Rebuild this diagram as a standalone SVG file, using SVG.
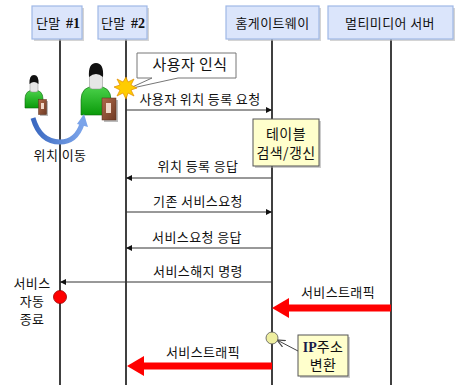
<svg xmlns="http://www.w3.org/2000/svg" width="455" height="385" viewBox="0 0 455 385">
  <style>
    .hdr { fill: #dbe5fb; stroke: #9fb8e6; stroke-width: 1.2; }
    .shadow { fill: #b8b8b8; opacity: 0.6; }
    .life { stroke: #000; stroke-width: 1.5; }
    .msg { stroke: #333; stroke-width: 1; fill: none; }
    .t { font-family: "Noto Sans CJK KR", "Liberation Sans", sans-serif; font-size: 13px; fill: #111; letter-spacing: 0.4px; }
    .ts { font-family: "Liberation Serif", serif; font-weight: bold; font-size: 14px; fill: #111; }
    .note { fill: #ffffcc; stroke: #555; stroke-width: 1; }
    .traffic { stroke: #ff0000; stroke-width: 7; fill: none; }
  </style>
  <defs>
    <marker id="ah" viewBox="0 0 6 6" refX="6" refY="3" markerWidth="6" markerHeight="6" orient="auto" markerUnits="userSpaceOnUse">
      <path d="M0,0 L6,3 L0,6 z" fill="#111"/>
    </marker>
    <marker id="open" viewBox="0 0 10 10" refX="9" refY="5" markerWidth="9" markerHeight="9" orient="auto" markerUnits="userSpaceOnUse">
      <path d="M0,1 L9,5 L0,9" fill="none" stroke="#444" stroke-width="1.3"/>
    </marker>
    <linearGradient id="bodyG" x1="0" y1="0" x2="0" y2="1">
      <stop offset="0" stop-color="#4cd34c"/>
      <stop offset="1" stop-color="#0a9a0a"/>
    </linearGradient>
    <linearGradient id="phoneG" x1="0" y1="0" x2="1" y2="1">
      <stop offset="0" stop-color="#b06a4a"/>
      <stop offset="1" stop-color="#6e3a24"/>
    </linearGradient>
    <linearGradient id="curveG" x1="0" y1="0" x2="1" y2="0">
      <stop offset="0" stop-color="#3a68c0"/>
      <stop offset="1" stop-color="#7ba4ea"/>
    </linearGradient>
  </defs>

  <!-- lifelines -->
  <g id="lifelines">
    <line class="life" x1="60" y1="39" x2="60" y2="385"/>
    <line class="life" x1="126" y1="39" x2="126" y2="385"/>
    <line class="life" x1="272" y1="39" x2="272" y2="385"/>
    <line class="life" x1="391" y1="39" x2="391" y2="385"/>
  </g>

  <!-- participants -->
  <g id="term1">
    <rect class="shadow" x="34" y="8" width="50" height="33"/>
    <rect class="hdr" x="32" y="6" width="50" height="33"/>
    <text class="t" x="36" y="28">단말</text>
    <text class="ts" x="66" y="28">#1</text>
  </g>
  <g id="term2">
    <rect class="shadow" x="100" y="8" width="49" height="33"/>
    <rect class="hdr" x="98" y="6" width="49" height="33"/>
    <text class="t" x="101" y="28">단말</text>
    <text class="ts" x="131" y="28">#2</text>
  </g>
  <g id="gateway">
    <rect class="shadow" x="228" y="8" width="93" height="33"/>
    <rect class="hdr" x="226" y="6" width="93" height="33"/>
    <text class="t" x="272.5" y="28" text-anchor="middle">홈게이트웨이</text>
  </g>
  <g id="server">
    <rect class="shadow" x="330" y="8" width="125" height="33"/>
    <rect class="hdr" x="328" y="6" width="125" height="33"/>
    <text class="t" x="390" y="28" text-anchor="middle">멀티미디어 서버</text>
  </g>

  <!-- users and movement -->
  <g id="user-small">
    <path d="M25,108 L25,99 Q25,90 34,90 Q43,90 43,99 L43,108 z" fill="url(#bodyG)" stroke="#0a6a0a" stroke-width="0.6"/>
    <rect x="30" y="79" width="8" height="13" rx="2" fill="#e6e6e6" stroke="#888" stroke-width="0.5"/>
    <path d="M29.5,84 Q29,75 34,75 Q39,75 38.5,84 Q34,80 29.5,84 z" fill="#111"/>
    <rect x="40" y="101" width="8" height="15" fill="#555" opacity="0.4"/>
    <rect x="38.5" y="99.5" width="8" height="15" fill="url(#phoneG)" stroke="#5a2e1a" stroke-width="0.5"/>
    <rect x="41" y="103" width="3" height="6" fill="#f0d8c8"/>
  </g>
  <g id="user-large">
    <path d="M81,115 L81,100 Q81,86 96,86 Q111,86 111,100 L111,115 z" fill="url(#bodyG)" stroke="#0a6a0a" stroke-width="0.6"/>
    <rect x="89.5" y="69" width="13" height="20" rx="3" fill="#e6e6e6" stroke="#888" stroke-width="0.5"/>
    <path d="M89,77 Q88,63 96,63 Q104,63 103,77 Q96,71 89,77 z" fill="#111"/>
    <rect x="104" y="100" width="14" height="22" fill="#555" opacity="0.4"/>
    <rect x="102" y="98" width="14" height="22" fill="url(#phoneG)" stroke="#5a2e1a" stroke-width="0.5"/>
    <rect x="106" y="103" width="5" height="10" fill="#f0d8c8"/>
  </g>
  <g id="move">
    <path d="M33,118 Q40,142 60,142 Q76,142 82,124" fill="none" stroke="url(#curveG)" stroke-width="5"/>
    <path d="M77,124 L84,114 L88,127 z" fill="#7ba4ea"/>
    <text class="t" x="60" y="160" text-anchor="middle">위치 이동</text>
  </g>

  <!-- user detection callout -->
  <g id="detect">
    <path d="M137,53 H236 V78 H178 L128,89 L152,78 H137 z" fill="#fff" stroke="#777" stroke-width="1"/>
    <text class="t" x="190" y="70" text-anchor="middle" style="font-size:15px">사용자 인식</text>
    <path d="M126,77 L128,82 L134,79 L131,85 L137,88 L131,90 L134,96 L128,93 L126,99 L123,93 L117,96 L120,90 L114,87 L120,85 L117,79 L123,82 z" fill="#ffcc00" stroke="#e08a00" stroke-width="0.7"/>
  </g>

  <!-- notes -->
  <g id="table-note">
    <rect x="255" y="121" width="66" height="47" fill="#999" opacity="0.5"/>
    <rect class="note" x="253" y="119" width="66" height="47"/>
    <text class="t" x="286" y="139" text-anchor="middle" style="font-size:14px">테이블</text>
    <text class="t" x="286" y="158" text-anchor="middle" style="font-size:14px">검색/갱신</text>
  </g>
  <g id="ip-note">
    <rect x="300" y="337" width="50" height="41" fill="#999" opacity="0.5"/>
    <rect class="note" x="298" y="335" width="50" height="41"/>
    <text x="323" y="352" text-anchor="middle"><tspan class="ts" style="fill:#1a1a4a">IP</tspan><tspan class="t" style="font-size:14px">주소</tspan></text>
    <text class="t" x="323" y="370" text-anchor="middle" style="font-size:14px">변환</text>
  </g>

  <!-- messages -->
  <g id="connectors">
    <line class="msg" x1="126" y1="110" x2="272" y2="110" marker-end="url(#ah)"/>
    <line class="msg" x1="272" y1="178" x2="126" y2="178" marker-end="url(#ah)"/>
    <line class="msg" x1="126" y1="212" x2="272" y2="212" marker-end="url(#ah)"/>
    <line class="msg" x1="272" y1="248" x2="126" y2="248" marker-end="url(#ah)"/>
    <line class="msg" x1="272" y1="282" x2="60" y2="282" marker-end="url(#ah)"/>
    <line class="traffic" x1="391" y1="308" x2="286" y2="308"/>
    <path d="M272,308 L289,298 L289,318 z" fill="#ff0000"/>
    <line class="traffic" x1="272" y1="366" x2="141" y2="366"/>
    <path d="M127,366 L144,356 L144,376 z" fill="#ff0000"/>
    <line x1="298" y1="351" x2="277" y2="340" stroke="#444" stroke-width="1" marker-end="url(#open)"/>
  </g>

  <g id="labels">
    <text class="t" x="200" y="104" text-anchor="middle">사용자 위치 등록 요청</text>
    <text class="t" x="198" y="171" text-anchor="middle">위치 등록 응답</text>
    <text class="t" x="198" y="206" text-anchor="middle">기존 서비스요청</text>
    <text class="t" x="197" y="242" text-anchor="middle">서비스요청 응답</text>
    <text class="t" x="198" y="276" text-anchor="middle">서비스해지 명령</text>
    <text class="t" x="338" y="297" text-anchor="middle">서비스트래픽</text>
    <text class="t" x="203" y="357" text-anchor="middle">서비스트래픽</text>
    <text class="t" x="32" y="288" text-anchor="middle">서비스</text>
    <text class="t" x="32" y="306" text-anchor="middle">자동</text>
    <text class="t" x="32" y="324" text-anchor="middle">종료</text>
  </g>

  <!-- state markers -->
  <g id="end-marker">
    <circle cx="60" cy="297" r="6.5" fill="#ff0000" stroke="#900" stroke-width="0.8"/>
  </g>
  <g id="ip-marker">
    <circle cx="272" cy="338" r="6" fill="#eeeea0" stroke="#555" stroke-width="0.8"/>
  </g>
</svg>
